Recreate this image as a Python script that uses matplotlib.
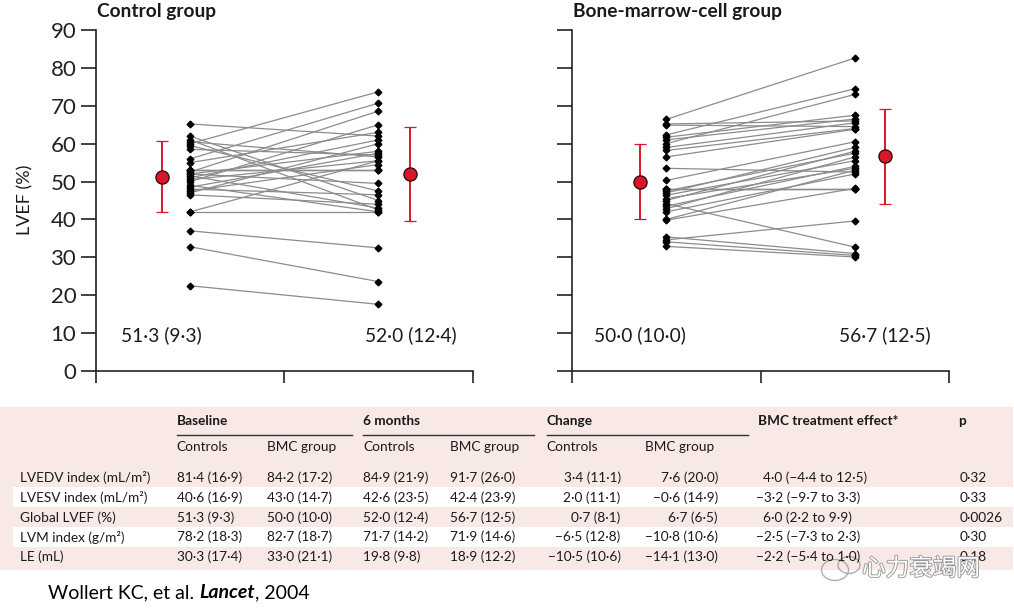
import matplotlib
matplotlib.use('Agg')
import matplotlib.pyplot as plt
import matplotlib.patheffects as pe
from matplotlib.patches import Rectangle, Ellipse

plt.rcParams['font.family'] = ['Lato', 'DejaVu Sans']

# LVEF (%) of each patient, baseline -> 6 months
ctrl_base = [65.2, 62.0, 61.0, 60.5, 60.0, 59.5, 58.5, 56.0, 55.0, 53.0,
             53.0, 53.0, 52.5, 52.0, 52.0, 51.5, 51.0, 50.5, 50.0, 49.0,
             48.5, 48.0, 47.5, 47.0, 46.5, 42.0, 42.0, 37.0, 32.8, 22.5]
ctrl_6mo = [62.0, 45.0, 42.5, 56.5, 73.7, 47.5, 57.0, 70.7, 63.0, 53.0,
            53.0, 53.0, 68.6, 49.5, 58.0, 43.0, 61.0, 55.5, 65.0, 42.0,
            57.5, 46.5, 54.5, 60.0, 44.0, 55.5, 42.0, 32.5, 23.6, 17.6]
bmc_base = [66.4, 65.2, 64.9, 62.3, 61.7, 61.0, 60.0, 59.0, 58.2, 56.5,
            53.5, 50.3, 48.0, 48.0, 48.0, 47.5, 47.0, 46.4, 45.5, 45.0,
            44.2, 43.5, 42.8, 42.0, 40.0, 39.8, 35.4, 34.6, 34.1, 32.9]
bmc_6mo = [82.6, 66.0, 64.5, 74.5, 67.5, 66.5, 73.0, 65.5, 64.0, 63.8,
           52.5, 60.5, 48.0, 48.0, 48.0, 57.5, 59.0, 55.5, 53.5, 58.0,
           32.7, 54.0, 56.5, 52.0, 53.0, 48.2, 31.0, 39.6, 30.5, 30.1]

ctrl_mean = [51.3, 52.0]
ctrl_sd = [9.3, 12.4]
bmc_mean = [50.0, 56.7]
bmc_sd = [10.0, 12.5]
ctrl_labels = ['51·3 (9·3)', '52·0 (12·4)']
bmc_labels = ['50·0 (10·0)', '56·7 (12·5)']

# table
row_labels = ['LVEDV index (mL/m²)', 'LVESV index (mL/m²)', 'Global LVEF (%)',
              'LVM index (g/m²)', 'LE (mL)']
base_ctrl = ['81·4 (16·9)', '40·6 (16·9)', '51·3 (9·3)', '78·2 (18·3)', '30·3 (17·4)']
base_bmc = ['84·2 (17·2)', '43·0 (14·7)', '50·0 (10·0)', '82·7 (18·7)', '33·0 (21·1)']
m6_ctrl = ['84·9 (21·9)', '42·6 (23·5)', '52·0 (12·4)', '71·7 (14·2)', '19·8 (9·8)']
m6_bmc = ['91·7 (26·0)', '42·4 (23·9)', '56·7 (12·5)', '71·9 (14·6)', '18·9 (12·2)']
chg_ctrl = ['3·4 (11·1)', '2·0 (11·1)', '0·7 (8·1)', '−6·5 (12·8)', '−10·5 (10·6)']
chg_bmc = ['7·6 (20·0)', '−0·6 (14·9)', '6·7 (6·5)', '−10·8 (10·6)', '−14·1 (13·0)']
effect = ['4·0 (−4·4 to 12·5)', '−3·2 (−9·7 to 3·3)', '6·0 (2·2 to 9·9)',
          '−2·5 (−7·3 to 2·3)', '−2·2 (−5·4 to 1·0)']
pvals = ['0·32', '0·33', '0·0026', '0·30', '0·18']

RED = '#d7182a'
W, H = 1014, 612


def draw_panel(ax, base, six, mean, sd, labels, xmean, show_labels):
    for b, s in zip(base, six):
        ax.plot([0.5, 1.5], [b, s], color='#8c8c8c', lw=0.9, zorder=2)
    ax.plot([0.5] * len(base), base, 'D', color='black', ms=3.4, zorder=3)
    ax.plot([1.5] * len(six), six, 'D', color='black', ms=3.4, zorder=3)
    ax.errorbar(xmean, mean, yerr=sd, fmt='o', color=RED, mfc=RED, mec='#2a0505',
                mew=0.9, ms=9.5, capsize=4, elinewidth=1.4, capthick=1.4, zorder=4)
    for x, t in zip(xmean, labels):
        ax.text(x, 9.5, t, ha='center', va='center', fontsize=13.8, color='#1a1a1a')
    ax.set_xlim(0, 2)
    ax.set_ylim(0, 90)
    ax.spines['top'].set_visible(False)
    ax.spines['right'].set_visible(False)
    for sp in ['left', 'bottom']:
        ax.spines[sp].set_linewidth(1.2)
        ax.spines[sp].set_color('#222222')
    ax.set_xticks([0, 1, 2])
    ax.set_xticklabels([])
    ax.set_yticks(range(0, 91, 10))
    ax.tick_params(axis='y', direction='out', length=11, width=1.2, color='#222222',
                   labelsize=16, labelcolor='#222222', pad=3, labelleft=show_labels)
    ax.tick_params(axis='x', direction='out', length=8.5, width=1.2, color='#222222')
    ax.patch.set_visible(False)


fig = plt.figure(figsize=(W / 100, H / 100), dpi=100)

axl = fig.add_axes([95.7 / W, 1 - 371 / H, 377 / W, 341 / H])
draw_panel(axl, ctrl_base, ctrl_6mo, ctrl_mean, ctrl_sd, ctrl_labels, [0.35, 1.67], True)
axr = fig.add_axes([571.7 / W, 1 - 371 / H, 377.6 / W, 341 / H])
draw_panel(axr, bmc_base, bmc_6mo, bmc_mean, bmc_sd, bmc_labels, [0.36, 1.66], False)

fig.text(97 / W, 1 - 12 / H, 'Control group', fontweight='bold', fontsize=13.8,
         ha='left', va='center', color='#1a1a1a')
fig.text(573 / W, 1 - 12 / H, 'Bone-marrow-cell group', fontweight='bold', fontsize=13.8,
         ha='left', va='center', color='#1a1a1a')
fig.text(25 / W, 1 - 200 / H, 'LVEF (%)', rotation=90, fontsize=13,
         ha='center', va='center', color='#1a1a1a')

# table drawn in pixel coordinates
tax = fig.add_axes([0, 0, 1, 1], zorder=-1)
tax.set_xlim(0, W)
tax.set_ylim(H, 0)
tax.axis('off')
tax.add_patch(Rectangle((0, 407), 1013, 163, color='#f8e9e6', lw=0))
for y0 in [487, 527]:
    tax.add_patch(Rectangle((13, y0), 1000, 20, color='white', lw=0))
for x0, x1 in [(176.7, 352), (363, 534), (546.7, 748.3)]:
    tax.plot([x0, x1], [435, 435], color='#333333', lw=1)

fs = 9.8
tc = '#1a1a1a'
for x, t in [(176.7, 'Baseline'), (363.3, '6 months'), (546.7, 'Change'),
             (758.3, 'BMC treatment effect*'), (958, 'p')]:
    tax.text(x, 421, t, fontsize=fs, fontweight='bold', ha='left', va='center', color=tc)
for x, t in [(176.7, 'Controls'), (266.7, 'BMC group'), (363.3, 'Controls'),
             (450, 'BMC group'), (546.7, 'Controls'), (645, 'BMC group')]:
    tax.text(x, 447, t, fontsize=fs, ha='left', va='center', color=tc)

row_y = [478, 498, 518, 537, 557]
for i, y in enumerate(row_y):
    tax.text(20, y, row_labels[i], fontsize=fs, ha='left', va='center', color=tc)
    tax.text(176.7, y, base_ctrl[i], fontsize=fs, ha='left', va='center', color=tc)
    tax.text(266.7, y, base_bmc[i], fontsize=fs, ha='left', va='center', color=tc)
    tax.text(363.3, y, m6_ctrl[i], fontsize=fs, ha='left', va='center', color=tc)
    tax.text(450, y, m6_bmc[i], fontsize=fs, ha='left', va='center', color=tc)
    tax.text(620.7, y, chg_ctrl[i], fontsize=fs, ha='right', va='center', color=tc)
    tax.text(718, y, chg_bmc[i], fontsize=fs, ha='right', va='center', color=tc)
    ex = 756 if effect[i].startswith('−') else 763
    tax.text(ex, y, effect[i], fontsize=fs, ha='left', va='center', color=tc)
    tax.text(960, y, pvals[i], fontsize=fs, ha='left', va='center', color=tc)

# source line, "Lancet" in bold italic
sfs = 14
src = tax.text(48, 593, 'Wollert KC, et al. ', fontsize=sfs, ha='left', va='center',
               color='black')
fig.canvas.draw()
bb = src.get_window_extent().transformed(tax.transData.inverted())
t2 = tax.text(bb.x1, 593, 'Lancet', fontsize=sfs, fontweight='bold', fontstyle='italic',
              ha='left', va='center', color='black')
fig.canvas.draw()
bb2 = t2.get_window_extent().transformed(tax.transData.inverted())
tax.text(bb2.x1, 593, ', 2004', fontsize=sfs, ha='left', va='center', color='black')

# watermark
tax.add_patch(Ellipse((835, 570), 27, 21, fill=False, ec='#9a9a9a', lw=1, alpha=0.8))
tax.add_patch(Ellipse((849, 565), 22, 17, fill=False, ec='#9a9a9a', lw=1, alpha=0.8))
tax.text(862, 569, '心力衰竭网', family=['Noto Sans CJK SC'], fontsize=17, color='white',
         ha='left', va='center',
         path_effects=[pe.withStroke(linewidth=1.3, foreground='#9a9a9a')])

fig.savefig('out.png', dpi=100)
